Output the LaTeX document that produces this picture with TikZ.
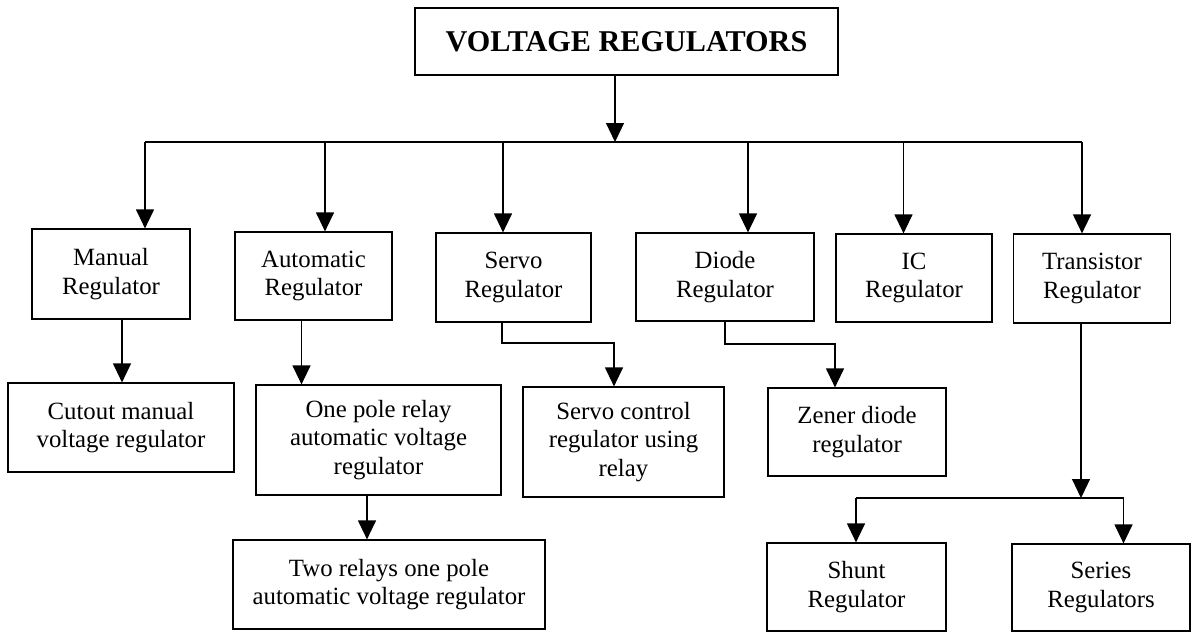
\documentclass[tikz,border=0pt]{standalone}
\usepackage{fontspec}
\setmainfont{Liberation Serif}
\usetikzlibrary{arrows.meta}
\begin{document}
\begin{tikzpicture}[x=1pt,y=-1pt,
  box/.style={draw, line width=1.2pt, align=center, inner sep=0pt,
    font=\fontsize{24.8}{28.5}\selectfont},
  titlebox/.style={draw, line width=1.2pt, align=center, inner sep=0pt,
    font=\fontsize{30.2}{34}\selectfont\bfseries},
  link/.style={line width=1.2pt},
  arr/.style={line width=1.2pt, -{Triangle[length=19pt,width=18pt]}}]
\useasboundingbox (0,0) rectangle (1191,632);
% nodes
\node[titlebox, minimum width=423pt, minimum height=67pt] (title) at (626.5,41.5) {VOLTAGE REGULATORS};
\node[box, minimum width=158pt, minimum height=90pt] (manual) at (111,274) {Manual\\Regulator};
\node[box, minimum width=157pt, minimum height=88pt] (auto) at (313.5,276) {Automatic\\Regulator};
\node[box, minimum width=155pt, minimum height=89pt] (servo) at (513.5,277.5) {Servo\\Regulator};
\node[box, minimum width=178pt, minimum height=88pt] (diode) at (725,277) {Diode\\Regulator};
\node[box, minimum width=156pt, minimum height=88pt] (ic) at (914,278) {IC\\Regulator};
\node[box, minimum width=157pt, minimum height=89pt] (trans) at (1092,278.5) {Transistor\\Regulator};
\node[box, minimum width=226pt, minimum height=89pt] (cutout) at (121,427.5) {Cutout manual\\voltage regulator};
\node[box, minimum width=245pt, minimum height=110pt] (onepole) at (378.5,440) {One pole relay\\automatic voltage\\regulator};
\node[box, minimum width=201pt, minimum height=110pt] (servoctl) at (623.5,442) {Servo control\\regulator using\\relay};
\node[box, minimum width=178pt, minimum height=88pt] (zener) at (857,432) {Zener diode\\regulator};
\node[box, minimum width=312pt, minimum height=89pt] (two) at (389,584.5) {Two relays one pole\\automatic voltage regulator};
\node[box, minimum width=179pt, minimum height=88pt] (shunt) at (856.5,587) {Shunt\\Regulator};
\node[box, minimum width=178pt, minimum height=87pt] (series) at (1101,587.5) {Series\\Regulators};
% bus coordinates
\coordinate (bus) at (615,142);
\coordinate (b1) at (145,142);
\coordinate (b2) at (325,142);
\coordinate (b3) at (503,142);
\coordinate (b4) at (748,142);
\coordinate (b5) at (903.5,142);
\coordinate (b6) at (1082,142);
\coordinate (sv1) at (502,343);
\coordinate (sv2) at (614,343);
\coordinate (dd1) at (725,344);
\coordinate (dd2) at (835,344);
\coordinate (tb) at (1081,498);
\coordinate (tb1) at (856,498);
\coordinate (tb2) at (1123.5,498);
\coordinate (mc) at (122,0);
\coordinate (ao) at (301.5,0);
\coordinate (ot) at (367,0);
% connectors
\draw[arr] (title.south -| bus) -- (bus);
\draw[link] (b1) -- (b6);
\draw[arr] (b1) -- (b1 |- manual.north);
\draw[arr] (b2) -- (b2 |- auto.north);
\draw[arr] (b3) -- (b3 |- servo.north);
\draw[arr] (b4) -- (b4 |- diode.north);
\draw[arr] (b5) -- (b5 |- ic.north);
\draw[arr] (b6) -- (b6 |- trans.north);
\draw[arr] (mc |- manual.south) -- (mc |- cutout.north);
\draw[arr] (ao |- auto.south) -- (ao |- onepole.north);
\draw[arr] (ot |- onepole.south) -- (ot |- two.north);
\draw[arr] (sv1 |- servo.south) -- (sv1) -- (sv2) -- (sv2 |- servoctl.north);
\draw[arr] (dd1 |- diode.south) -- (dd1) -- (dd2) -- (dd2 |- zener.north);
\draw[arr] (tb |- trans.south) -- (tb);
\draw[link] (tb1) -- (tb2);
\draw[arr] (tb1) -- (tb1 |- shunt.north);
\draw[arr] (tb2) -- (tb2 |- series.north);
\end{tikzpicture}
\end{document}
